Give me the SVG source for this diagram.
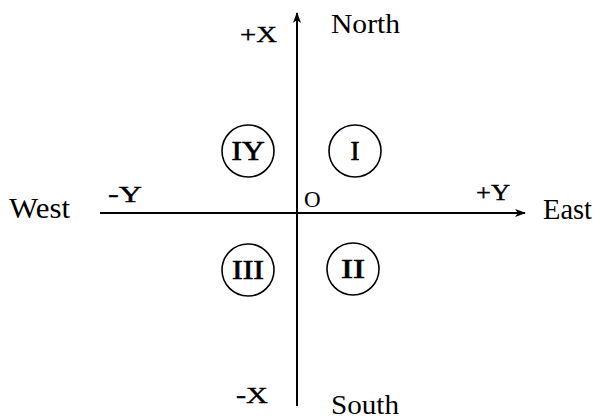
<svg xmlns="http://www.w3.org/2000/svg" width="594" height="419" viewBox="0 0 594 419">
<style>
.ax{stroke:#000;stroke-width:2;fill:none}
.c{fill:none;stroke:#000;stroke-width:1.6}
.w{font-family:"Liberation Serif",serif;font-size:27px;fill:#000}
.l{font-family:"Liberation Serif",serif;font-size:24px;fill:#000;stroke:#000;stroke-width:0.4}
.o{font-family:"Liberation Serif",serif;font-size:23px;fill:#000}
.n{font-family:"Liberation Serif",serif;font-size:27px;fill:#000;stroke:#000;stroke-width:0.7;text-anchor:middle}
</style>
<defs>
<marker id="ah" viewBox="0 0 12 10" refX="11" refY="5" markerWidth="12" markerHeight="9" markerUnits="userSpaceOnUse" orient="auto">
<path d="M0,0.5 L12,5 L0,9.5 L3,5 Z" fill="#000"/>
</marker>
</defs>
<rect width="594" height="419" fill="#fff"/>
<g id="connectors">
<line class="ax" x1="297" y1="406" x2="297" y2="13" marker-end="url(#ah)"/>
<line class="ax" x1="100" y1="213" x2="525" y2="213" marker-end="url(#ah)"/>
</g>
<g id="q4"><circle class="c" cx="248" cy="151" r="26"/><text class="n" x="248" y="160" textLength="33" lengthAdjust="spacingAndGlyphs">IY</text></g>
<g id="q1"><circle class="c" cx="355" cy="151" r="26"/><text class="n" x="355" y="160">I</text></g>
<g id="q3"><circle class="c" cx="248" cy="270" r="26"/><text class="n" x="248" y="279" textLength="32" lengthAdjust="spacingAndGlyphs">III</text></g>
<g id="q2"><circle class="c" cx="353" cy="269" r="26"/><text class="n" x="353" y="278" textLength="24" lengthAdjust="spacingAndGlyphs">II</text></g>
<g id="labels">
<text class="l" x="240" y="42" textLength="37" lengthAdjust="spacingAndGlyphs">+X</text>
<text class="w" x="331" y="33" textLength="69" lengthAdjust="spacingAndGlyphs">North</text>
<text class="w" x="9" y="218" style="font-size:29px" textLength="61" lengthAdjust="spacingAndGlyphs">West</text>
<text class="w" x="543" y="219" style="font-size:29px" textLength="49" lengthAdjust="spacingAndGlyphs">East</text>
<text class="l" x="108" y="202" textLength="34" lengthAdjust="spacingAndGlyphs">-Y</text>
<text class="l" x="476" y="200" textLength="34" lengthAdjust="spacingAndGlyphs">+Y</text>
<text class="o" x="304" y="207">O</text>
<text class="l" x="236" y="403" textLength="32" lengthAdjust="spacingAndGlyphs">-X</text>
<text class="w" x="331" y="414" textLength="68" lengthAdjust="spacingAndGlyphs">South</text>
</g>
</svg>
